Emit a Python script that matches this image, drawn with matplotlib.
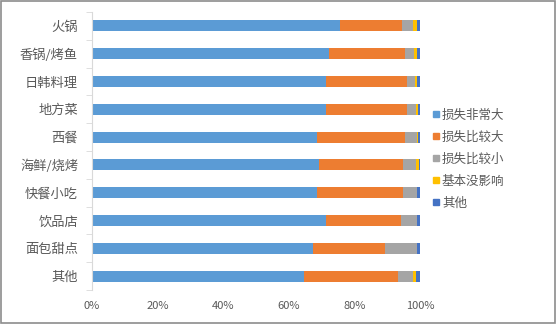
import matplotlib
matplotlib.use("Agg")
import matplotlib.pyplot as plt
from matplotlib.lines import Line2D
from matplotlib.patches import Rectangle
import numpy as np

plt.rcParams['font.family'] = ['Noto Sans CJK SC', 'DejaVu Sans']

# data (percent of respondents), top to bottom
categories = ["火锅", "香锅/烤鱼", "日韩料理", "地方菜", "西餐",
              "海鲜/烧烤", "快餐小吃", "饮品店", "面包甜点", "其他"]
series_names = ["损失非常大", "损失比较大", "损失比较小", "基本没影响", "其他"]
very_large = [75.5, 72.3, 71.2, 71.2, 68.5, 69.3, 68.5, 71.3, 67.3, 64.6]
large = [19.0, 23.1, 24.7, 24.9, 26.9, 25.6, 26.4, 22.8, 22.1, 28.7]
small = [3.3, 2.9, 2.7, 2.7, 3.6, 3.9, 4.1, 4.9, 9.6, 4.7]
no_effect = [1.2, 0.7, 0.4, 0.7, 0.4, 0.8, 0.0, 0.2, 0.0, 0.8]
other = [1.0, 1.0, 1.0, 0.5, 0.6, 0.4, 1.0, 0.8, 1.0, 1.2]
x_ticks = [0, 20, 40, 60, 80, 100]

colors = ["#5B9BD5", "#ED7D31", "#A5A5A5", "#FFC000", "#4472C4"]
text_color = "#595959"

fig = plt.figure(figsize=(5.56, 3.24), dpi=100)
ax = fig.add_axes([92 / 556, 34 / 324, 328 / 556, 278 / 324])

y = np.arange(len(categories))
left = np.zeros(len(categories))
for vals, c in zip([very_large, large, small, no_effect, other], colors):
    ax.barh(y, vals, left=left, height=0.4, color=c)
    left += np.array(vals)

ax.set_xlim(0, 100)
ax.set_ylim(len(categories) - 0.5, -0.5)
ax.set_yticks(y)
ax.set_yticklabels(categories, fontsize=9.5, color=text_color)
ax.set_yticks(np.arange(-0.5, len(categories)), minor=True)
ax.tick_params(axis='y', which='major', length=0, pad=10)
ax.tick_params(axis='y', which='minor', length=4, color='#D9D9D9', direction='out')
ax.set_xticks(x_ticks)
ax.set_xticklabels([f"{v}%" for v in x_ticks], fontsize=8, color=text_color)
ax.tick_params(axis='x', length=0, pad=8)
for s in ['top', 'right', 'bottom']:
    ax.spines[s].set_visible(False)
ax.spines['left'].set_color('#D9D9D9')

handles = [Line2D([], [], marker='s', linestyle='none', markersize=5,
                  color=c) for c in colors]
fig.legend(handles, series_names, loc='center left',
           bbox_to_anchor=(427 / 556, 1 - 159 / 324), frameon=False,
           fontsize=9, labelcolor=text_color, handlelength=0.5,
           handletextpad=0.2, labelspacing=0.72, borderpad=0)

fig.add_artist(Rectangle((0.001, 0.002), 0.997, 0.995, transform=fig.transFigure,
                         fill=False, edgecolor='#8C8C8C', linewidth=1.2))

fig.savefig("out.png", dpi=100)
